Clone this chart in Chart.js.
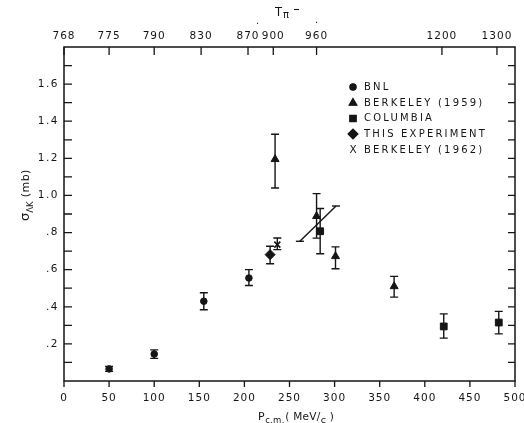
<!DOCTYPE html>
<html>
<head>
<meta charset="utf-8">
<script src="https://cdn.jsdelivr.net/npm/chart.js@4.4.0/dist/chart.umd.min.js"></script>
<style>
  html, body { margin: 0; padding: 0; background: #fff; }
  #wrap { width: 524px; height: 423px; }
</style>
</head>
<body>
<div id="wrap"><canvas id="chart" width="524" height="423"></canvas></div>
<script>
// ---- axis ticks ----
const xTicks = [0, 50, 100, 150, 200, 250, 300, 350, 400, 450, 500];
const yTicks = [0.2, 0.4, 0.6, 0.8, 1.0, 1.2, 1.4, 1.6];
const yTickLabels = ['.2', '.4', '.6', '.8', '1.0', '1.2', '1.4', '1.6'];
const yMinorTicks = [0.1, 0.3, 0.5, 0.7, 0.9, 1.1, 1.3, 1.5, 1.7];
// top axis: T(pi-) labels placed at p(c.m.) positions
const topTickPos = [0, 50, 100, 152, 204, 232, 280, 419, 480];
const topTickLabels = ['768', '775', '790', '830', '870', '900', '960', '1200', '1300'];

// ---- series ----
const bnlP = [50, 100, 155, 205];
const bnlSigma = [0.065, 0.145, 0.43, 0.555];
const bnlLow = [0.052, 0.122, 0.384, 0.515];
const bnlHigh = [0.078, 0.168, 0.476, 0.600];

const berk59P = [234, 280, 301, 366];
const berk59Sigma = [1.195, 0.888, 0.672, 0.51];
const berk59Low = [1.04, 0.77, 0.605, 0.452];
const berk59High = [1.33, 1.01, 0.723, 0.564];

const columbiaP = [284, 421, 482];
const columbiaSigma = [0.807, 0.294, 0.315];
const columbiaLow = [0.686, 0.231, 0.254];
const columbiaHigh = [0.93, 0.362, 0.375];

const thisExpP = [228.5];
const thisExpSigma = [0.681];
const thisExpLow = [0.632];
const thisExpHigh = [0.726];

const berk62P = [236.5];
const berk62Sigma = [0.735];
const berk62Low = [0.708];
const berk62High = [0.771];

// slanted bar near the Columbia point
const slantP = [261.5, 301.6];
const slantSigma = [0.753, 0.943];

const legendNames = ['BNL', 'BERKELEY (1959)', 'COLUMBIA', 'THIS EXPERIMENT', 'BERKELEY (1962)'];

const INK = '#151515';
const FONT = '"DejaVu Sans", sans-serif';

function toPoints(xs, ys) {
  return xs.map(function(x, i) { return { x: x, y: ys[i] }; });
}

function makeSet(label, xs, ys, lo, hi, style, radius) {
  return {
    label: label,
    data: toPoints(xs, ys),
    errLow: lo,
    errHigh: hi,
    pointStyle: style,
    pointRadius: radius,
    backgroundColor: INK,
    borderColor: INK,
    borderWidth: style === 'crossRot' ? 1.6 : 1,
    showLine: false
  };
}

function drawText(ctx, str, x, y, size, align, spacing) {
  ctx.font = size + 'px ' + FONT;
  ctx.textAlign = align || 'left';
  ctx.letterSpacing = (spacing || 0) + 'px';
  ctx.fillText(str, x, y);
  ctx.letterSpacing = '0px';
}

const paperPlugin = {
  id: 'paper',
  beforeDatasetsDraw(chart) {
    const ctx = chart.ctx;
    const xs = chart.scales.x, ys = chart.scales.y;
    ctx.save();
    ctx.strokeStyle = INK;
    ctx.lineWidth = 1.4;
    chart.data.datasets.forEach(function(ds) {
      if (!ds.errLow) return;
      ds.data.forEach(function(pt, i) {
        const px = xs.getPixelForValue(pt.x);
        const y1 = ys.getPixelForValue(ds.errLow[i]);
        const y2 = ys.getPixelForValue(ds.errHigh[i]);
        ctx.beginPath();
        ctx.moveTo(px, y1); ctx.lineTo(px, y2);
        ctx.moveTo(px - 4, y1); ctx.lineTo(px + 4, y1);
        ctx.moveTo(px - 4, y2); ctx.lineTo(px + 4, y2);
        ctx.stroke();
      });
    });
    // caps on the slanted bar
    slantP.forEach(function(p, i) {
      const px = xs.getPixelForValue(p);
      const py = ys.getPixelForValue(slantSigma[i]);
      ctx.beginPath();
      ctx.moveTo(px - 4, py); ctx.lineTo(px + 4, py);
      ctx.stroke();
    });
    ctx.restore();
  },
  afterDraw(chart) {
    const ctx = chart.ctx;
    const a = chart.chartArea;
    const xs = chart.scales.x, ys = chart.scales.y;
    ctx.save();
    ctx.strokeStyle = INK;
    ctx.fillStyle = INK;
    ctx.lineWidth = 1.5;
    ctx.strokeRect(a.left, a.top, a.right - a.left, a.bottom - a.top);

    ctx.lineWidth = 1.3;
    ctx.beginPath();
    // bottom ticks (outward)
    xTicks.forEach(function(v) {
      const px = xs.getPixelForValue(v);
      ctx.moveTo(px, a.bottom); ctx.lineTo(px, a.bottom + 6);
    });
    // left + right ticks (inward)
    yTicks.concat(yMinorTicks).forEach(function(v) {
      const py = ys.getPixelForValue(v);
      ctx.moveTo(a.left, py); ctx.lineTo(a.left + 8, py);
      ctx.moveTo(a.right, py); ctx.lineTo(a.right - 7, py);
    });
    // top ticks (inward)
    topTickPos.forEach(function(v) {
      const px = xs.getPixelForValue(v);
      ctx.moveTo(px, a.top); ctx.lineTo(px, a.top + 8);
    });
    ctx.stroke();

    ctx.textBaseline = 'middle';
    xTicks.forEach(function(v) {
      drawText(ctx, String(v), xs.getPixelForValue(v), a.bottom + 17, 10.5, 'center', 1);
    });
    yTicks.forEach(function(v, i) {
      drawText(ctx, yTickLabels[i], a.left - 5, ys.getPixelForValue(v), 10.5, 'right', 1.5);
    });
    topTickPos.forEach(function(v, i) {
      drawText(ctx, topTickLabels[i], xs.getPixelForValue(v), a.top - 11, 10.5, 'center', 1);
    });

    // top title: T pi-
    ctx.textBaseline = 'alphabetic';
    drawText(ctx, 'T', 275, 16, 11.5, 'left', 0);
    drawText(ctx, 'π', 283, 18, 10, 'left', 0);
    ctx.lineWidth = 1.1;
    ctx.beginPath();
    ctx.moveTo(294, 9.5); ctx.lineTo(299, 9.5);
    ctx.stroke();
    drawText(ctx, '.', 256, 24, 10, 'left', 0);
    drawText(ctx, '.', 315, 23, 10, 'left', 0);

    // x axis title: P c.m. (MeV/c)
    let x = 258;
    drawText(ctx, 'P', x, 420, 11, 'left', 0);
    x += ctx.measureText('P').width + 0.5;
    ctx.font = '8.5px ' + FONT;
    drawText(ctx, 'c.m.', x, 423, 8.5, 'left', 0.3);
    x += 20;
    drawText(ctx, '( MeV/', x, 420, 10.5, 'left', 0.3);
    ctx.font = '10.5px ' + FONT;
    x += ctx.measureText('( MeV/').width + 2;
    drawText(ctx, 'c', x, 423, 9.5, 'left', 0);
    x += 9;
    drawText(ctx, ')', x, 420, 10.5, 'left', 0);

    // y axis title: sigma_{Lambda K} (mb), rotated
    ctx.save();
    ctx.translate(29, 192);
    ctx.rotate(-Math.PI / 2);
    let tx = -29;
    drawText(ctx, 'σ', tx, 0, 13, 'left', 0);
    ctx.font = '13px ' + FONT;
    tx += ctx.measureText('σ').width;
    drawText(ctx, 'ΛK', tx, 3.5, 8.5, 'left', 0);
    ctx.font = '8.5px ' + FONT;
    tx += ctx.measureText('ΛK').width + 4;
    drawText(ctx, '(mb)', tx, 0, 11, 'left', 0.5);
    ctx.restore();

    // legend
    const lx = 353, tX = 364;
    const rows = [87, 103, 118.5, 134, 150];
    const styles = [['circle', 3.2], ['triangle', 4.6], ['rect', 4.6], ['rectRot', 5], [null, 0]];
    ctx.textBaseline = 'middle';
    rows.forEach(function(ry, i) {
      if (styles[i][0]) {
        Chart.helpers.drawPoint(ctx, { pointStyle: styles[i][0], radius: styles[i][1], borderWidth: 1 }, lx, ry);
        ctx.fill();
      } else {
        drawText(ctx, 'X', lx, ry, 10.5, 'center', 0);
      }
      drawText(ctx, legendNames[i], tX, ry, 10, 'left', 2.2);
    });
    ctx.restore();
  }
};

const datasets = [
  makeSet('BNL', bnlP, bnlSigma, bnlLow, bnlHigh, 'circle', 3.3),
  makeSet('BERKELEY (1959)', berk59P, berk59Sigma, berk59Low, berk59High, 'triangle', 4.6),
  makeSet('COLUMBIA', columbiaP, columbiaSigma, columbiaLow, columbiaHigh, 'rect', 4.8),
  makeSet('THIS EXPERIMENT', thisExpP, thisExpSigma, thisExpLow, thisExpHigh, 'rectRot', 5),
  makeSet('BERKELEY (1962)', berk62P, berk62Sigma, berk62Low, berk62High, 'crossRot', 4.2),
  {
    label: 'slant',
    data: toPoints(slantP, slantSigma),
    showLine: true,
    borderColor: INK,
    borderWidth: 1.4,
    pointRadius: 0,
    fill: false
  }
];

new Chart(document.getElementById('chart').getContext('2d'), {
  type: 'scatter',
  data: { datasets: datasets },
  options: {
    responsive: false,
    animation: false,
    devicePixelRatio: 1,
    layout: { padding: { left: 64, right: 9, top: 47, bottom: 42 } },
    plugins: { legend: { display: false }, tooltip: { enabled: false } },
    scales: {
      x: { type: 'linear', min: 0, max: 500, display: false },
      y: { type: 'linear', min: 0, max: 1.8, display: false }
    }
  },
  plugins: [paperPlugin]
});
</script>
</body>
</html>
